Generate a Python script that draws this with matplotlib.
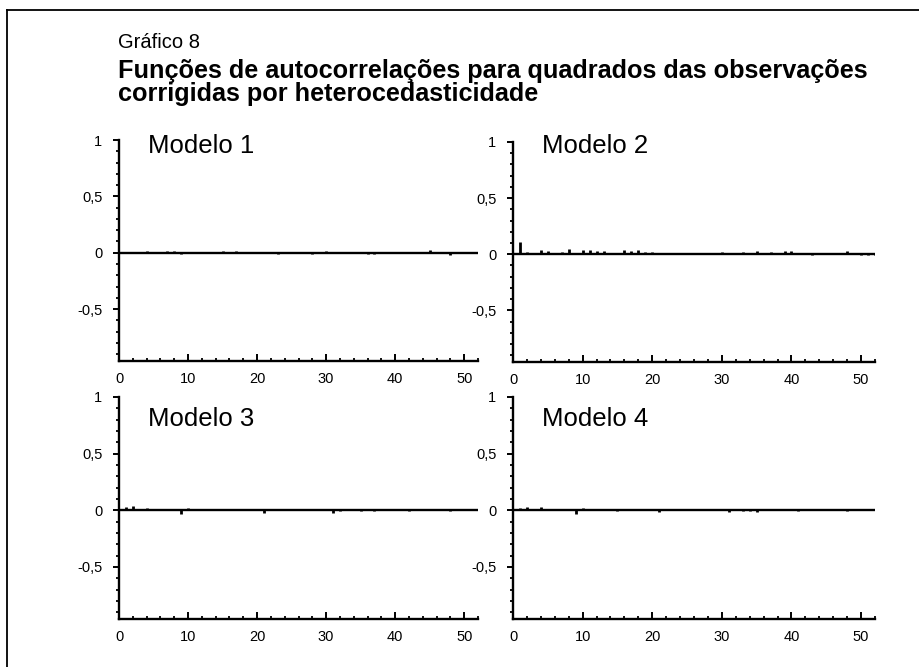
import matplotlib
matplotlib.use("Agg")
import matplotlib.pyplot as plt
from matplotlib.lines import Line2D
from matplotlib.ticker import MultipleLocator, FixedLocator
import numpy as np

plt.rcParams['font.family'] = ['Liberation Sans', 'DejaVu Sans']

lags = list(range(1, 53))

modelo1 = [0.005, 0.0, 0.005, 0.012, 0.01, 0.0, 0.015, 0.012, -0.01, 0.005,
           0.0, 0.005, 0.0, -0.005, 0.012, 0.0, 0.015, 0.0, -0.005, 0.0,
           0.005, 0.01, -0.008, 0.0, 0.0, 0.005, 0.0, -0.01, 0.0, 0.012,
           0.0, 0.0, 0.005, 0.0, 0.0, -0.015, -0.008, 0.01, 0.0, 0.005,
           0.005, 0.0, 0.0, 0.0, 0.025, 0.0, 0.0, -0.02, 0.0, 0.0,
           -0.005, 0.0]
modelo2 = [0.11, 0.02, 0.01, 0.04, 0.03, 0.01, 0.02, 0.045, 0.01, 0.04,
           0.04, 0.03, 0.03, 0.01, 0.005, 0.04, 0.03, 0.035, 0.02, 0.02,
           0.015, 0.01, 0.01, 0.005, 0.0, 0.005, 0.005, 0.0, 0.01, 0.02,
           0.01, 0.015, 0.02, 0.015, 0.025, 0.015, 0.02, 0.01, 0.025, 0.025,
           0.01, 0.005, -0.005, 0.0, 0.005, 0.01, 0.01, 0.025, 0.0, -0.005,
           -0.01, -0.005]
modelo3 = [0.03, 0.04, 0.01, 0.02, 0.01, 0.005, 0.0, 0.005, -0.03, 0.02,
           0.0, 0.005, 0.0, 0.0, 0.005, 0.0, 0.005, 0.0, 0.005, 0.01,
           -0.02, 0.01, 0.01, 0.005, 0.0, 0.0, 0.005, 0.0, 0.0, 0.0,
           -0.02, -0.01, 0.0, 0.0, -0.01, 0.0, -0.01, 0.0, 0.0, 0.0,
           0.0, -0.005, 0.0, 0.0, 0.0, 0.01, 0.0, -0.01, 0.0, 0.0,
           0.0, 0.0]
modelo4 = [0.02, 0.03, 0.015, 0.03, 0.01, 0.005, 0.0, 0.0, -0.03, 0.02,
           0.0, 0.0, 0.01, 0.0, -0.005, 0.0, 0.0, 0.005, 0.005, 0.01,
           -0.015, 0.005, 0.005, 0.005, 0.0, 0.0, 0.0, 0.0, 0.0, 0.0,
           -0.015, 0.0, -0.01, -0.01, -0.015, 0.005, 0.005, 0.0, 0.0, 0.0,
           -0.005, 0.0, 0.0, 0.0, 0.0, 0.01, 0.0, -0.005, 0.0, 0.0,
           0.0, 0.0]

series = [modelo1, modelo2, modelo3, modelo4]
titles = ["Modelo 1", "Modelo 2", "Modelo 3", "Modelo 4"]
yticks = [-0.5, 0, 0.5, 1]
ytick_labels = ["-0,5", "0", "0,5", "1"]
xticks = [0, 10, 20, 30, 40, 50]

W, H = 919, 667
fig = plt.figure(figsize=(W / 100, H / 100), dpi=100)

# panel boxes in pixels: left, right, top, bottom, label-top
boxes = [(119, 478, 140, 361, 134), (513, 875, 142, 362, 134),
         (119, 478, 397, 619, 407), (513, 875, 397, 619, 407)]

for vals, title, (l, r, t, b, lt) in zip(series, titles, boxes):
    ax = fig.add_axes([l / W, 1 - b / H, (r - l) / W, (b - t) / H])
    ax.set_xlim(0, 52)
    ax.set_ylim(-0.96, 1.0)
    ax.axhline(0, color='black', lw=1.7, zorder=3)
    ax.vlines(lags, 0, vals, color='black', lw=2.0)
    for s in ['top', 'right']:
        ax.spines[s].set_visible(False)
    for s in ['left', 'bottom']:
        ax.spines[s].set_linewidth(1.7)
    ax.yaxis.set_major_locator(FixedLocator(yticks))
    ax.set_yticklabels(ytick_labels)
    ax.yaxis.set_minor_locator(MultipleLocator(0.1))
    ax.xaxis.set_major_locator(FixedLocator(xticks))
    ax.xaxis.set_minor_locator(MultipleLocator(2))
    ax.tick_params(axis='y', which='major', direction='out', length=4, width=1.4,
                   labelsize=10.5, pad=8)
    ax.tick_params(axis='y', which='minor', direction='out', length=2.5, width=1.3)
    ax.tick_params(axis='x', which='major', direction='in', length=5, width=1.4,
                   labelsize=10.5, pad=8)
    ax.tick_params(axis='x', which='minor', direction='in', length=2.5, width=1.3)
    fig.text((l + 29) / W, 1 - lt / H, title, fontsize=18.5, va='top', ha='left')

fig.text(118 / W, 1 - 48 / H, "Gráfico 8", fontsize=14.5, ha='left', va='baseline')
fig.text(118 / W, 1 - 78 / H, "Funções de autocorrelações para quadrados das observações",
         fontsize=18.2, fontweight='bold', ha='left', va='baseline')
fig.text(118 / W, 1 - 101 / H, "corrigidas por heterocedasticidade",
         fontsize=18.2, fontweight='bold', ha='left', va='baseline')

fig.add_artist(Line2D([7 / W, 7 / W], [0, 1 - 10 / H], transform=fig.transFigure,
                      color='black', lw=1.3))
fig.add_artist(Line2D([7 / W, 1], [1 - 10 / H, 1 - 10 / H], transform=fig.transFigure,
                      color='black', lw=1.3))

fig.savefig("out.png", dpi=100)
